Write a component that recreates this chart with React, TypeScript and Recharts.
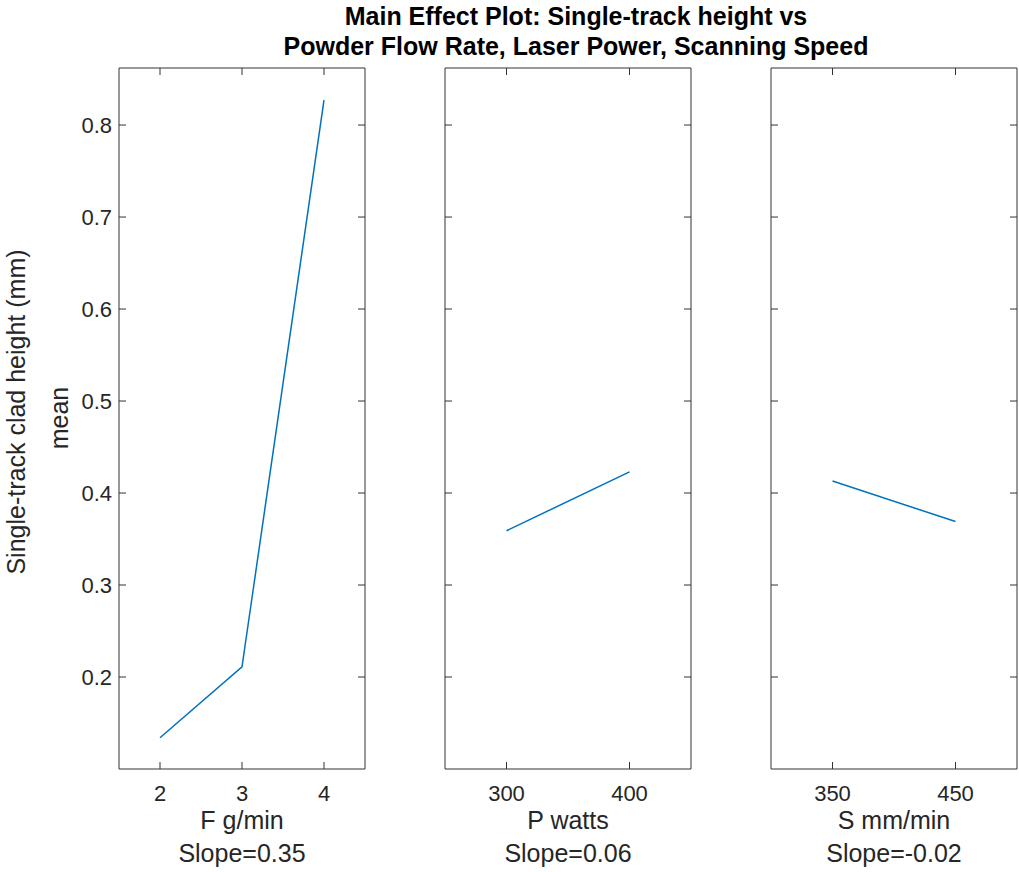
import React from "react";
import { Line, LineChart, XAxis, YAxis } from "recharts";

// main effect means
const flowRate = [2, 3, 4];
const flowMean = [0.134, 0.211, 0.827];
const laserPower = [300, 400];
const powerMean = [0.359, 0.423];
const scanSpeed = [350, 450];
const speedMean = [0.413, 0.369];

const flowTicks = [2, 3, 4];
const powerTicks = [300, 400];
const speedTicks = [350, 450];
const yTicks = [0.2, 0.3, 0.4, 0.5, 0.6, 0.7, 0.8];

const factorNames = ["F g/min", "P watts", "S mm/min"];
const slopeLabels = ["Slope=0.35", "Slope=0.06", "Slope=-0.02"];
const titleLines = [
  "Main Effect Plot: Single-track height vs",
  "Powder Flow Rate, Laser Power, Scanning Speed",
];

const Y_DOMAIN: [number, number] = [0.1, 0.862];
const PANEL_LEFT = [119, 445, 771];
const PANEL_W = 246;
const H = 872;
const AXIS = "#333333";
const TXT = "#262626";
const LINE = "#0072BD";
const FONT = "'Liberation Sans', Arial, Helvetica, sans-serif";
const TICK_LEN = 7;
const X_GAP = 16;
const Y_GAP = 7;

// MATLAB style: tick marks point into the box, label (optional) outside
function makeTick(side: "bottom" | "top" | "left" | "right", gap: number, label: boolean) {
  return (props: any) => {
    const { x, y, payload } = props;
    let line;
    let text = null;
    if (side === "bottom") {
      const ay = y - gap;
      line = <line x1={x} x2={x} y1={ay} y2={ay - TICK_LEN} stroke={AXIS} />;
      if (label)
        text = (
          <text x={x} y={ay + gap} dy="0.71em" textAnchor="middle" fontSize={22} fill={TXT}>
            {payload.value}
          </text>
        );
    } else if (side === "top") {
      const ay = y + gap;
      line = <line x1={x} x2={x} y1={ay} y2={ay + TICK_LEN} stroke={AXIS} />;
    } else if (side === "left") {
      const ax = x + gap;
      line = <line x1={ax} x2={ax + TICK_LEN} y1={y} y2={y} stroke={AXIS} />;
      if (label)
        text = (
          <text x={ax - gap} y={y} dy="0.355em" textAnchor="end" fontSize={22} fill={TXT}>
            {payload.value}
          </text>
        );
    } else {
      const ax = x - gap;
      line = <line x1={ax} x2={ax - TICK_LEN} y1={y} y2={y} stroke={AXIS} />;
    }
    return (
      <g>
        {line}
        {text}
      </g>
    );
  };
}

type PanelProps = {
  left: number;
  xs: number[];
  ys: number[];
  domain: [number, number];
  ticks: number[];
  showY: boolean;
};

function Panel({ left, xs, ys, domain, ticks, showY }: PanelProps) {
  const data = xs.map((x, i) => ({ x, y: ys[i] }));
  return (
    <div style={{ position: "absolute", left: left - 100, top: 0 }}>
      <LineChart
        width={PANEL_W + 102}
        height={H}
        data={data}
        margin={{ top: 67, right: 1, bottom: 63, left: 0 }}
        style={{ fontFamily: FONT }}
      >
        <XAxis
          xAxisId="b"
          dataKey="x"
          type="number"
          domain={domain}
          ticks={ticks}
          allowDataOverflow
          interval={0}
          height={40}
          tickSize={0}
          tickMargin={X_GAP}
          tickLine={false}
          stroke={AXIS}
          tick={makeTick("bottom", X_GAP, true)}
        />
        <XAxis
          xAxisId="t"
          orientation="top"
          dataKey="x"
          type="number"
          domain={domain}
          ticks={ticks}
          allowDataOverflow
          interval={0}
          height={1}
          tickSize={0}
          tickMargin={2}
          tickLine={false}
          stroke={AXIS}
          tick={makeTick("top", 2, false)}
        />
        <YAxis
          yAxisId="l"
          type="number"
          domain={Y_DOMAIN}
          ticks={yTicks}
          allowDataOverflow
          interval={0}
          width={100}
          tickSize={0}
          tickMargin={Y_GAP}
          tickLine={false}
          stroke={AXIS}
          tick={makeTick("left", Y_GAP, showY)}
        />
        <YAxis
          yAxisId="r"
          orientation="right"
          type="number"
          domain={Y_DOMAIN}
          ticks={yTicks}
          allowDataOverflow
          interval={0}
          width={1}
          tickSize={0}
          tickMargin={2}
          tickLine={false}
          stroke={AXIS}
          tick={makeTick("right", 2, false)}
        />
        <Line
          xAxisId="b"
          yAxisId="l"
          dataKey="y"
          type="linear"
          stroke={LINE}
          strokeWidth={1.5}
          dot={false}
          activeDot={false}
          isAnimationActive={false}
        />
      </LineChart>
    </div>
  );
}

export default function App() {
  return (
    <div
      style={{
        position: "absolute",
        left: 0,
        top: 0,
        width: 1019,
        height: H,
        overflow: "hidden",
        background: "#fff",
      }}
    >
      <Panel left={PANEL_LEFT[0]} xs={flowRate} ys={flowMean} domain={[1.5, 4.5]} ticks={flowTicks} showY />
      <Panel left={PANEL_LEFT[1]} xs={laserPower} ys={powerMean} domain={[250, 450]} ticks={powerTicks} showY={false} />
      <Panel left={PANEL_LEFT[2]} xs={scanSpeed} ys={speedMean} domain={[300, 500]} ticks={speedTicks} showY={false} />
      <svg
        width={1019}
        height={H}
        style={{ position: "absolute", left: 0, top: 0, pointerEvents: "none", fontFamily: FONT }}
      >
        {titleLines.map((t, i) => (
          <text key={t} x={576} y={25 + i * 30} textAnchor="middle" fontSize={25} fontWeight="bold" fill="#000">
            {t}
          </text>
        ))}
        <text x={0} y={0} transform="translate(25 412) rotate(-90)" textAnchor="middle" fontSize={25} fill={TXT}>
          Single-track clad height (mm)
        </text>
        <text x={0} y={0} transform="translate(68 418) rotate(-90)" textAnchor="middle" fontSize={25} fill={TXT}>
          mean
        </text>
        {factorNames.map((name, i) => (
          <g key={name}>
            <text x={PANEL_LEFT[i] + PANEL_W / 2} y={829} textAnchor="middle" fontSize={25} fill={TXT}>
              {name}
            </text>
            <text x={PANEL_LEFT[i] + PANEL_W / 2} y={862} textAnchor="middle" fontSize={25} fill={TXT}>
              {slopeLabels[i]}
            </text>
          </g>
        ))}
      </svg>
    </div>
  );
}
